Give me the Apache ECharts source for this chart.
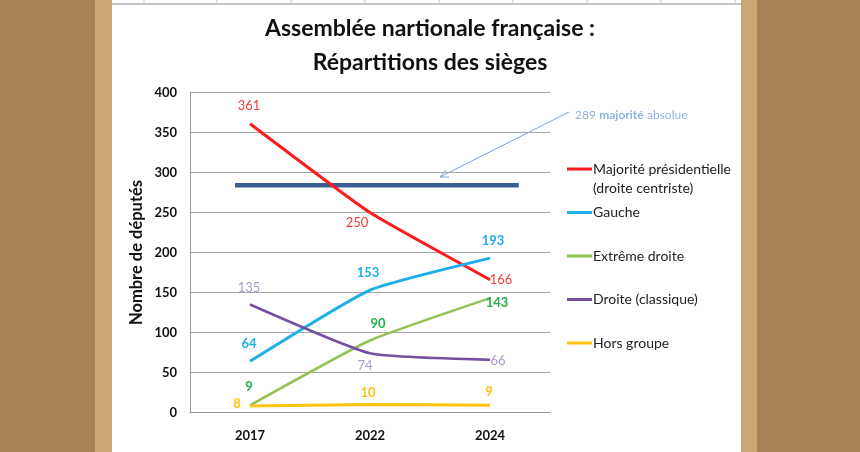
<!DOCTYPE html>
<html>
<head>
<meta charset="utf-8">
<script src="https://cdn.jsdelivr.net/npm/echarts@6/dist/echarts.min.js"></script>
<style>
html,body{margin:0;padding:0;background:#fff;}
#c{width:860px;height:452px;}
</style>
</head>
<body>
<div id="c"></div>
<script>
// ---- data ----
var years = ['2017', '2022', '2024'];
var seriesNames = ['Majorité présidentielle', 'Gauche', 'Extrême droite', 'Droite (classique)', 'Hors groupe'];
var majoritePresidentielle = [361, 250, 166];
var gauche = [64, 153, 193];
var extremeDroite = [9, 90, 143];
var droiteClassique = [135, 74, 66];
var horsGroupe = [8, 10, 9];
var yTicks = [0, 50, 100, 150, 200, 250, 300, 350, 400];
// horizontal "majorité absolue" bar: [x in category units, value]
var majoriteLigne = [[0.375, 284], [2.74, 284]];
var titleLines = ['Assemblée nartionale française :', 'Répartitions des sièges'];
var yName = 'Nombre de députés';
var annotation = ['289', 'majorité', 'absolue'];
var legendSub = '(droite centriste)';

var FONT = 'Lato, "Open Sans", sans-serif';
var chart = echarts.init(document.getElementById('c'), null, {renderer: 'canvas'});

var styles = [
  {color: '#FF1A1A', label: '#F03C3C', bold: 'normal', w: 3, off: [[-1, -18], [-13, 10], [11, 0]]},
  {color: '#1CB0EA', label: '#1CB0EA', bold: 'bold', w: 3, off: [[-1, -17], [-2, -17], [3, -17]]},
  {color: '#94C154', label: '#22AE4A', bold: 'bold', w: 2.5, off: [[-1, -18], [8, -17], [7, 5]]},
  {color: '#7650A0', label: '#A99BCB', bold: 'normal', w: 2.5, off: [[-1, -17], [-5, 13], [8, 1]]},
  {color: '#FFC20E', label: '#FFC20E', bold: 'bold', w: 3, off: [[-13, -2], [-2, -12], [-1, -13]]}
];
var allValues = [majoritePresidentielle, gauche, extremeDroite, droiteClassique, horsGroupe];

var series = allValues.map(function (vals, k) {
  var s = styles[k];
  return {
    name: seriesNames[k],
    type: 'line',
    xAxisIndex: 0,
    smooth: 0.15,
    symbol: 'circle',
    symbolSize: 0.01,
    lineStyle: {color: s.color, width: s.w},
    itemStyle: {color: s.color},
    label: {
      show: true,
      position: 'inside',
      color: s.label,
      fontFamily: FONT,
      fontSize: 13,
      fontWeight: s.bold
    },
    emphasis: {disabled: true},
    data: vals.map(function (v, i) { return {value: v, label: {offset: s.off[i]}}; })
  };
});

series.push({
  name: 'majorite',
  type: 'line',
  xAxisIndex: 1,
  symbol: 'none',
  lineStyle: {color: '#3A5F95', width: 4.5},
  emphasis: {disabled: true},
  z: 1,
  data: majoriteLigne
});

// top spreadsheet lines
var topGraphics = [];
[144, 217, 291, 365, 439, 513, 587, 661, 735].forEach(function (x) {
  topGraphics.push({type: 'line', shape: {x1: x, y1: 0, x2: x, y2: 4}, style: {stroke: '#C8C8C8', lineWidth: 1}});
});

var option = {
  backgroundColor: '#ffffff',
  animation: false,
  textStyle: {fontFamily: FONT},
  title: {
    text: titleLines.join('\n'),
    left: 'center',
    top: 12,
    padding: 0,
    textStyle: {fontFamily: FONT, fontSize: 23, fontWeight: 'bold', color: '#111', lineHeight: 34}
  },
  grid: {left: 190, top: 92.5, width: 360, height: 320, containLabel: false},
  legend: {
    orient: 'vertical',
    left: 567,
    top: 162,
    padding: 0,
    icon: 'rect',
    itemWidth: 25,
    itemHeight: 3,
    itemGap: 29.5,
    data: seriesNames,
    selectedMode: false,
    textStyle: {fontFamily: FONT, fontSize: 14, color: '#222', padding: [0, 0, 0, -4]}
  },
  xAxis: [{
    type: 'category',
    data: years,
    boundaryGap: true,
    axisLine: {lineStyle: {color: '#9A9A9A', width: 1}},
    axisTick: {show: false},
    axisLabel: {color: '#111', fontFamily: FONT, fontSize: 13, fontWeight: 'bold', margin: 17}
  }, {
    type: 'value', min: 0, max: 3, show: false
  }],
  yAxis: {
    type: 'value',
    min: yTicks[0],
    max: yTicks[yTicks.length - 1],
    interval: 50,
    name: yName,
    nameLocation: 'middle',
    nameGap: 45,
    nameTextStyle: {color: '#111', fontFamily: FONT, fontSize: 16.5, fontWeight: 'bold'},
    axisLine: {show: true, lineStyle: {color: '#9A9A9A', width: 1}},
    axisTick: {show: false},
    splitLine: {lineStyle: {color: '#A6A6A6', width: 1}},
    axisLabel: {color: '#111', fontFamily: FONT, fontSize: 13, fontWeight: 'bold', margin: 13}
  },
  series: series,
  graphic: [
    {type: 'rect', shape: {x: 0, y: 0, width: 95, height: 452}, style: {fill: '#A98155'}, z: 100},
    {type: 'rect', shape: {x: 95, y: 0, width: 17, height: 452}, style: {fill: '#CBA672'}, z: 100},
    {type: 'rect', shape: {x: 741, y: 0, width: 16, height: 452}, style: {fill: '#CBA672'}, z: 100},
    {type: 'rect', shape: {x: 757, y: 0, width: 103, height: 452}, style: {fill: '#A98155'}, z: 100},
    {type: 'line', shape: {x1: 112, y1: 4, x2: 741, y2: 4}, style: {stroke: '#B0B0B0', lineWidth: 1.5}},
    {type: 'group', children: topGraphics},
    {type: 'text', left: 593, top: 181, style: {text: legendSub, fontFamily: FONT, fontSize: 14, fill: '#222'}},
    {type: 'line', shape: {x1: 569, y1: 112, x2: 440, y2: 177}, style: {stroke: '#7EA4D4', lineWidth: 1}},
    {type: 'polyline', shape: {points: [[446, 170], [440, 177], [449, 177]]}, style: {stroke: '#7EA4D4', lineWidth: 1, fill: null}},
    {type: 'text', left: 575, top: 109, style: {
      text: '{a|' + annotation[0] + '} {b|' + annotation[1] + '} {a|' + annotation[2] + '}',
      rich: {
        a: {fontFamily: FONT, fontSize: 12, fill: '#8DB3E2', color: '#8DB3E2'},
        b: {fontFamily: FONT, fontSize: 12, fontWeight: 'bold', fill: '#8DB3E2', color: '#8DB3E2'}
      }
    }}
  ]
};
chart.setOption(option);
</script>
</body>
</html>
